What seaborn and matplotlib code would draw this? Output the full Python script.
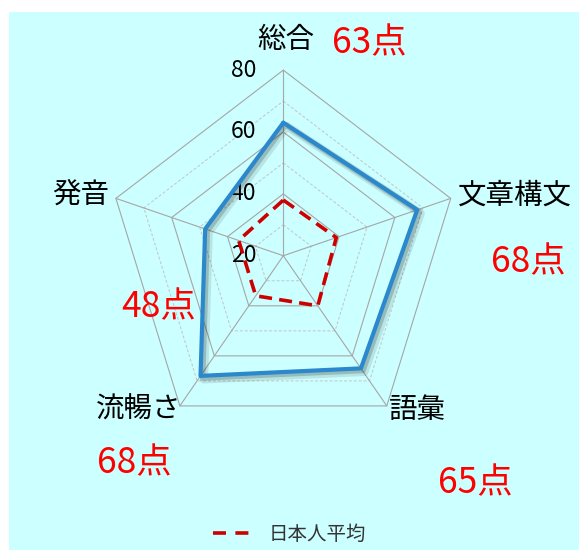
import numpy as np
import pandas as pd
import matplotlib
matplotlib.use("Agg")
import matplotlib.pyplot as plt
import matplotlib.patheffects as pe
from matplotlib.patches import Rectangle
from matplotlib.lines import Line2D
import seaborn as sns

# Scores per skill (clockwise from the top)
categories = ["総合", "文章構文", "語彙", "流暢さ", "発音"]
my_scores = [63, 68, 65, 68, 48]
jp_average = [38, 39, 40, 36, 36]
score_labels = ["63点", "68点", "65点", "68点", "48点"]
tick_values = [20, 40, 60, 80]
minor_values = [30, 50, 70]
legend_label = "日本人平均"

sns.set_theme(style="white")
plt.rcParams["font.family"] = ["Noto Sans CJK JP", "DejaVu Sans"]

fig = plt.figure(figsize=(5.79, 5.5), dpi=100)
fig.patch.set_facecolor("white")
fig.add_artist(Rectangle((9 / 579, 0), 1 - 9 / 579, 1 - 12 / 550,
                         transform=fig.transFigure, facecolor="#ccffff",
                         edgecolor="none", zorder=-10))

ax = fig.add_axes([0.1853, 0.1975, 0.608, 0.675], projection="polar")
ax.set_aspect("auto")
ax.set_facecolor("none")
ax.set_theta_offset(np.pi / 2)
ax.set_theta_direction(-1)

n = len(categories)
angles = np.linspace(0, 2 * np.pi, n, endpoint=False)
closed = np.append(angles, angles[0])

# Pentagon grid: solid major rings, dashed minor rings, spokes
for v in tick_values[1:]:
    ax.plot(closed, [v] * (n + 1), color="#a6a6a6", lw=0.8, clip_on=False, zorder=1)
for v in minor_values:
    ax.plot(closed, [v] * (n + 1), color="#c4c4c4", lw=0.7, ls=(0, (3, 2)),
            clip_on=False, zorder=1)
for a in angles:
    ax.plot([a, a], [tick_values[0], tick_values[-1]], color="#a6a6a6", lw=0.8,
            clip_on=False, zorder=1)

df_me = pd.DataFrame({"theta": closed, "score": my_scores + my_scores[:1]})
df_jp = pd.DataFrame({"theta": closed, "score": jp_average + jp_average[:1]})

sns.lineplot(data=df_me, x="theta", y="score", ax=ax, sort=False, estimator=None,
             color="#2b88cc", lw=3.0, zorder=4, clip_on=False,
             path_effects=[pe.SimpleLineShadow(offset=(2.5, -2.5), shadow_color="#000000",
                                               alpha=0.10, linewidth=6),
                           pe.SimpleLineShadow(offset=(1.5, -1.5), shadow_color="#000000",
                                               alpha=0.18, linewidth=4),
                           pe.Normal()])
sns.lineplot(data=df_jp, x="theta", y="score", ax=ax, sort=False, estimator=None,
             color="#cc0000", lw=2.6, zorder=5, clip_on=False)
ax.lines[-1].set_dashes((3.6, 2.0))

ax.set_ylim(tick_values[0], tick_values[-1])
ax.set_xticks([])
ax.set_yticks([])
ax.grid(False)
ax.spines["polar"].set_visible(False)
ax.set_xlabel("")
ax.set_ylabel("")

# Radial tick labels beside the top spoke
for v in tick_values:
    ax.annotate(str(v), xy=(0, v), xytext=(-27, 0), textcoords="offset pixels",
                ha="right", va="center", fontsize=16.5, color="black",
                annotation_clip=False)

# Category names and score labels around the chart
cat_offsets = [(2, 30), (64, 3), (31, -4), (-41, -4), (-35, 4)]
score_offsets = [(86, 27), (78, -64), (89, -77), (-46, -57), (43, -109)]
for a, name, off in zip(angles, categories, cat_offsets):
    ax.annotate(name, xy=(a, tick_values[-1]), xytext=off, textcoords="offset pixels",
                ha="center", va="center", fontsize=20.5, color="black",
                annotation_clip=False)
for a, lab, off in zip(angles, score_labels, score_offsets):
    ax.annotate(lab, xy=(a, tick_values[-1]), xytext=off, textcoords="offset pixels",
                ha="center", va="center", fontsize=25.5, color="#ff0000",
                annotation_clip=False)

handle = Line2D([], [], color="#cc0000", lw=2.6, dashes=(3.6, 2.6))
fig.legend([handle], [legend_label], loc="center", bbox_to_anchor=(0.5, 1 - 534 / 550),
           frameon=False, fontsize=14, handlelength=2.0, handletextpad=0.9,
           labelcolor="#333333")

fig.savefig("out.png", dpi=100, facecolor=fig.get_facecolor())
